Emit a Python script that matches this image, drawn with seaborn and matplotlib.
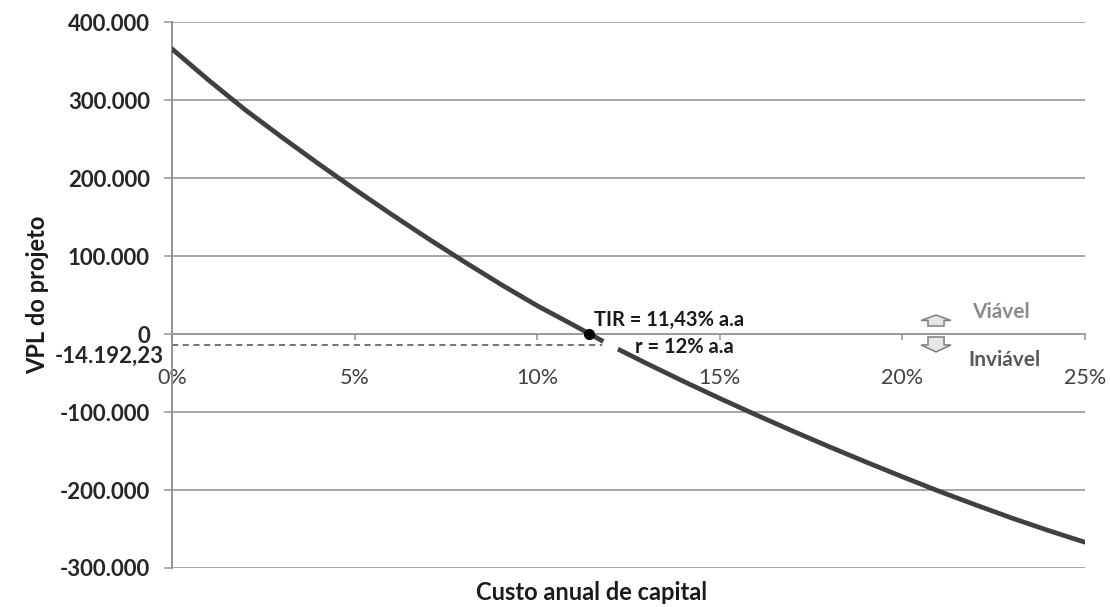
import matplotlib
matplotlib.use("Agg")
import matplotlib.pyplot as plt
import matplotlib.patches as mpatches
import pandas as pd
import seaborn as sns

# Custo anual de capital (% a.a.) e VPL do projeto correspondente
taxa = list(range(26))
vpl = [366000, 326000, 288000, 253000, 219000, 186000, 154000, 123000,
       93000, 64000, 36500, 11500, -14192.23, -37700, -60400, -82400,
       -103700, -124400, -144500, -164000, -183000, -201500, -219000,
       -236000, -252000, -267000]

tir = 11.43          # taxa interna de retorno (% a.a.)
taxa_r = 12          # custo de capital do projeto (% a.a.)
vpl_r = -14192.23    # VPL à taxa r

y_ticks = [-300000, -200000, -100000, 0, 100000, 200000, 300000, 400000]
x_ticks = [0, 5, 10, 15, 20, 25]

sns.set_style("white")
plt.rcParams["font.family"] = ["Lato", "DejaVu Sans"]

df = pd.DataFrame({"taxa": taxa, "vpl": vpl})

fig = plt.figure(figsize=(11.1, 6.07), dpi=100)
ax = fig.add_axes([0.155, 0.0643, 0.8225, 0.8987])

# eixo horizontal cruzando no zero (antes de configurar os ticks)
for s in ["top", "right"]:
    ax.spines[s].set_visible(False)
ax.spines["bottom"].set_position(("data", 0))
ax.spines["bottom"].set_color("#9a9a9a")
ax.spines["bottom"].set_linewidth(1.4)
ax.spines["left"].set_color("#8c8c8c")
ax.spines["left"].set_linewidth(1.3)

grid_c = "#a6a6a6"
for v in y_ticks:
    if v != 0:
        ax.axhline(v, color=grid_c, lw=1.4, zorder=1)

sns.lineplot(data=df, x="taxa", y="vpl", color="#404040", lw=3.4,
             ax=ax, zorder=3, legend=False)

# linha tracejada até o VPL à taxa r
ax.plot([0, taxa_r], [vpl_r, vpl_r], ls=(0, (4, 3)), color="#4d4d4d",
        lw=1.1, zorder=2)
ax.plot([taxa_r], [vpl_r], marker="o", ms=11, color="white",
        mec="white", zorder=4)
ax.plot([tir], [0], marker="o", ms=7, color="black", zorder=5)

ax.set_xlim(0, 25)
ax.set_ylim(-300000, 400000)
ax.set_yticks(y_ticks)
ax.set_yticklabels([f"{v:,.0f}".replace(",", ".") for v in y_ticks],
                   fontweight="bold", fontsize=16, color="#262626")
ax.set_xticks(x_ticks)
ax.set_xticklabels([f"{v}%" for v in x_ticks], fontsize=15.5,
                   color="#404040")

ax.tick_params(axis="y", direction="out", length=6, width=1.3,
               color=grid_c, pad=10, left=True)
ax.tick_params(axis="x", direction="out", length=4, width=1.2,
               color="#9a9a9a", pad=20, bottom=True)

ax.set_xlabel("Custo anual de capital", fontsize=17, fontweight="bold",
              color="#1a1a1a", labelpad=0)
ax.xaxis.set_label_coords(0.46, -0.024)
ax.set_ylabel("VPL do projeto", fontsize=17, fontweight="bold",
              color="#1a1a1a")
ax.yaxis.set_label_coords(-0.135, 0.5)

lbl_r = f"{vpl_r:,.2f}".replace(",", "#").replace(".", ",").replace("#", ".")
ax.annotate(lbl_r, xy=(0, vpl_r), xytext=(-6, -8), textcoords="offset points",
            ha="right", va="center", fontsize=16, fontweight="bold",
            color="#262626")

ax.annotate(f"TIR = {str(tir).replace('.', ',')}% a.a", xy=(tir, 0),
            xytext=(3, 10), textcoords="offset points", ha="left",
            va="center", fontsize=14.5, fontweight="bold", color="#1a1a1a")
ax.annotate(f"r = {taxa_r}% a.a", xy=(taxa_r, vpl_r),
            xytext=(18, -1), textcoords="offset points", ha="left",
            va="center", fontsize=14.5, fontweight="bold", color="#1a1a1a")

# setas de viabilidade
arrow_kw = dict(length_includes_head=True, fc="#e6e6e6", ec="#7f7f7f",
                lw=1.1, zorder=4)
ax.add_patch(mpatches.FancyArrow(20.92, 10500, 0, 14100, width=0.44,
                                 head_width=0.82, head_length=7000,
                                 **arrow_kw))
ax.add_patch(mpatches.FancyArrow(20.92, -3600, 0, -19200, width=0.44,
                                 head_width=0.82, head_length=9000,
                                 **arrow_kw))
ax.text(21.9, 28000, "Viável", ha="left", va="center", fontsize=15,
        fontweight="bold", color="#8a8a8a")
ax.text(21.8, -33000, "Inviável", ha="left", va="center", fontsize=15,
        fontweight="bold", color="#595959")

fig.savefig("out.png", dpi=100)
